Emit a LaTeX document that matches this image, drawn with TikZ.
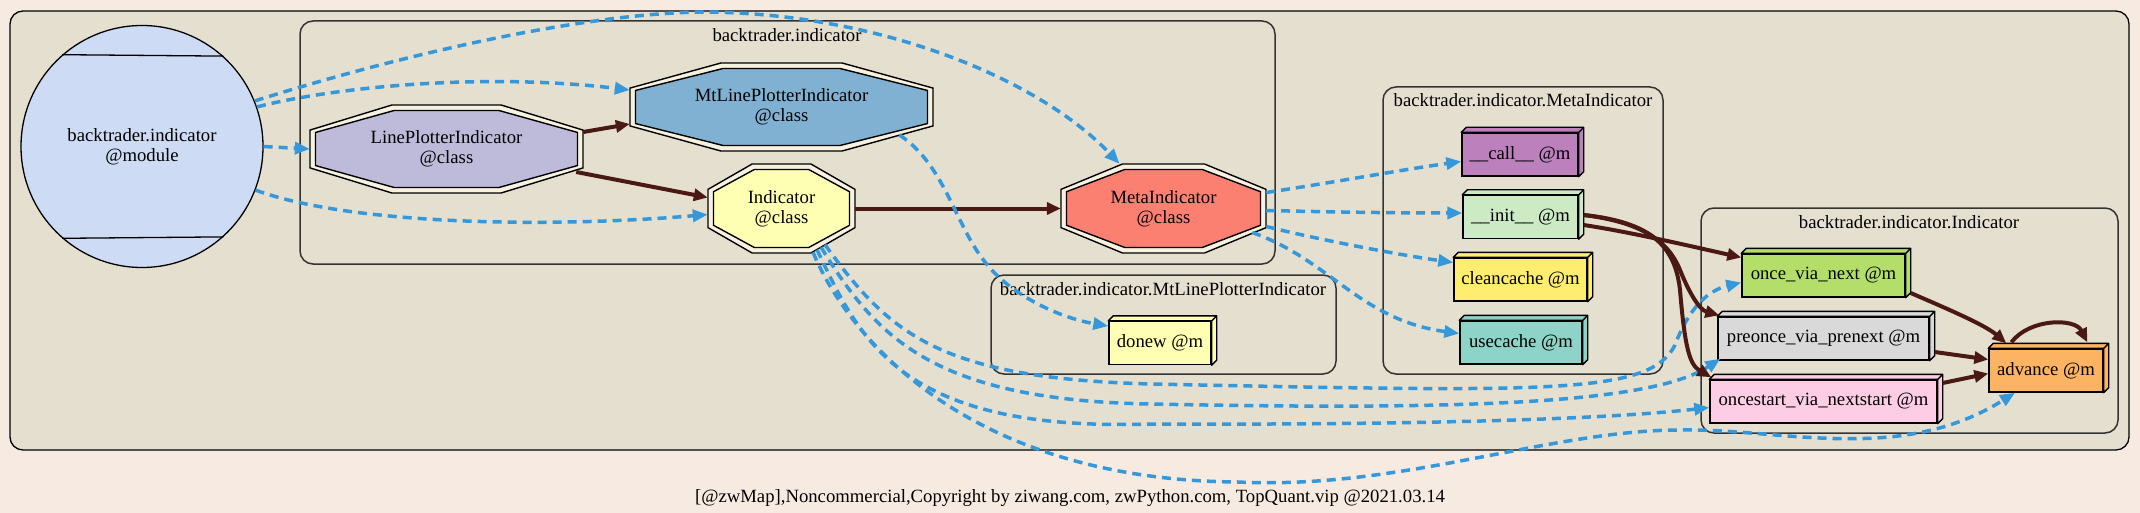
\documentclass[tikz,border=0pt]{standalone}
\usepackage{fontspec}
\setmainfont{Liberation Serif}
\usepackage{xcolor}
\usetikzlibrary{arrows.meta}

\definecolor{pagebg}{RGB}{247,235,225}
\definecolor{clusterbg}{RGB}{229,223,207}
\definecolor{octgap}{RGB}{247,241,224}
\definecolor{depblue}{RGB}{52,152,219}
\definecolor{inhbrown}{RGB}{75,25,20}
\definecolor{clrmod}{RGB}{206,219,244}
\definecolor{clrlpi}{HTML}{BEBADA}
\definecolor{clrmtl}{HTML}{80B1D3}
\definecolor{clrind}{HTML}{FFFFB3}
\definecolor{clrmeta}{HTML}{FB8072}
\definecolor{clrcall}{HTML}{BC80BD}
\definecolor{clrinit}{HTML}{CCEBC5}
\definecolor{clrclean}{HTML}{FFED6F}
\definecolor{clruse}{HTML}{8DD3C7}
\definecolor{clronv}{HTML}{B3DE69}
\definecolor{clrpre}{HTML}{D9D9D9}
\definecolor{clrost}{HTML}{FCCDE5}
\definecolor{clradv}{HTML}{FDB462}
\definecolor{clrdonew}{HTML}{FFFFB3}

\newcommand{\gvfont}{\fontsize{18.7}{20}\selectfont}
% octagon: cx, cy, half width, half height, options
\newcommand{\clsocta}[5]{%
  \draw[#5] ({#1-0.4*#3},{#2-#4}) -- ({#1+0.4*#3},{#2-#4}) -- ({#1+#3},{#2-0.43*#4}) -- ({#1+#3},{#2+0.43*#4}) -- ({#1+0.4*#3},{#2+#4}) -- ({#1-0.4*#3},{#2+#4}) -- ({#1-#3},{#2+0.43*#4}) -- ({#1-#3},{#2-0.43*#4}) -- cycle ;}

\begin{document}
\begin{tikzpicture}[x=1pt,y=-1pt,
  dep/.style={depblue, line width=3.5pt, dash pattern=on 9pt off 6pt, -{Triangle[length=15pt,width=12pt]}},
  inh/.style={inhbrown, line width=4pt, -{Triangle[length=14pt,width=12pt]}},
  clus/.style={draw=black!80, line width=1.5pt, fill=clusterbg, rounded corners=13pt},
  lbl/.style={font=\gvfont, inner sep=0pt, anchor=base},
  cls/.style={font=\gvfont, align=center, inner sep=0pt},
  meth/.style={draw, line width=1.4pt, fill=#1, font=\gvfont, minimum height=43pt, inner sep=0pt}]

%Shape: page background
\fill[pagebg] (0,0) rectangle (2140,513);
\useasboundingbox (0,0) rectangle (2140,513);

%Shape: Clusters
\draw[clus, draw=black, line width=1.3pt] (10,11) rectangle (2129,450);
\draw[clus] (300,21) rectangle (1275,264);
\draw[clus] (991,275) rectangle (1336,374);
\draw[clus] (1383,87) rectangle (1663,374);
\draw[clus] (1701,208) rectangle (2118,433);

% Text Node
\node[lbl] (lblind) at (787,42) {backtrader.indicator};
% Text Node
\node[lbl] (lblmtl) at (1163,295) {backtrader.indicator.MtLinePlotterIndicator};
% Text Node
\node[lbl] (lblmeta) at (1523,107) {backtrader.indicator.MetaIndicator};
% Text Node
\node[lbl] (lblindc) at (1909,228) {backtrader.indicator.Indicator};

%Shape: Module circle
\node[cls, circle, draw, line width=1.3pt, fill=clrmod, minimum size=242pt] (mod) at (142,146.5) {backtrader.indicator\\@module};
\draw[line width=1.3pt] (mod.131.6) -- (mod.48.4) (mod.-131.6) -- (mod.-48.4);

%Shape: Double Octagons
\clsocta{446.5}{149}{136.5}{44}{line width=1.4pt, fill=octgap}
\clsocta{446.5}{149}{131}{38.5}{line width=1.4pt, fill=clrlpi}
\node[cls, minimum width=273pt, minimum height=88pt] (lpi) at (446.5,149) {LinePlotterIndicator\\@class};

\clsocta{781.5}{107}{151.5}{44}{line width=1.4pt, fill=octgap}
\clsocta{781.5}{107}{146}{38.5}{line width=1.4pt, fill=clrmtl}
\node[cls, minimum width=303pt, minimum height=88pt] (mtl) at (781.5,107) {MtLinePlotterIndicator\\@class};

\clsocta{781.5}{208.5}{73.5}{44.5}{line width=1.4pt, fill=octgap}
\clsocta{781.5}{208.5}{68}{39}{line width=1.4pt, fill=clrind}
\node[cls, minimum width=147pt, minimum height=89pt] (ind) at (781.5,208.5) {Indicator\\@class};

\clsocta{1163.5}{208.5}{102.5}{44.5}{line width=1.4pt, fill=octgap}
\clsocta{1163.5}{208.5}{97}{39}{line width=1.4pt, fill=clrmeta}
\node[cls, minimum width=205pt, minimum height=89pt] (meta) at (1163.5,208.5) {MetaIndicator\\@class};

%Shape: Method boxes
\node[meth=clrcall, minimum width=116pt] (call) at (1520,154.5) {\_\_call\_\_ @m};
\node[meth=clrinit, minimum width=115pt] (init) at (1520.5,217) {\_\_init\_\_ @m};
\node[meth=clrclean, minimum width=133pt] (clean) at (1520.5,279.5) {cleancache @m};
\node[meth=clruse, minimum width=122pt] (use) at (1521,342.5) {usecache @m};
\node[meth=clronv, minimum width=163pt] (onv) at (1823.5,275.5) {once\_via\_next @m};
\node[meth=clrpre, minimum width=211pt] (pre) at (1823.5,338.5) {preonce\_via\_prenext @m};
\node[meth=clrost, minimum width=227pt] (ost) at (1823.5,401.5) {oncestart\_via\_nextstart @m};
\node[meth=clradv, minimum width=114pt] (adv) at (2046,370.5) {advance @m};
\node[meth=clrdonew, minimum width=102pt] (donew) at (1160,343) {donew @m};
\foreach \nm/\col in {call/clrcall, init/clrinit, clean/clrclean, use/clruse, onv/clronv, pre/clrpre, ost/clrost, adv/clradv, donew/clrdonew}
  \draw[line width=1.4pt, fill=\col, line join=round] (\nm.north west) -- ++(5,-5) -- ([shift={(5,-5)}]\nm.north east) -- ([shift={(5,-5)}]\nm.south east) -- (\nm.south east) -- (\nm.north east) -- cycle (\nm.north east) -- ++(5,-5);

%Curve Lines: module
\draw[dep] (mod.22) .. controls (400,55) and (580,14) .. (700,12) .. controls (880,12) and (1040,80) .. ([xshift=-44pt]meta.north);
\draw[dep] (mod.19) .. controls (330,88) and (480,72) .. ([yshift=17pt]mtl.west);
\draw[dep] (mod.east) -- (lpi.west);
\draw[dep] (mod.-21) .. controls (350,225) and (550,228) .. ([yshift=-6pt]ind.west);

%Straight Lines: inheritance
\draw[inh] ([yshift=17pt]lpi.east) -- ([yshift=-17pt]mtl.west);
\draw[inh] ([xshift=-7pt,yshift=-23pt]lpi.east) -- ([yshift=11pt]ind.west);
\draw[inh] (ind.east) -- (meta.west);

%Curve Lines: MtLinePlotterIndicator
\draw[dep] ([xshift=118pt,yshift=-28pt]mtl.center) .. controls (945,165) and (955,225) .. (985,262) .. controls (1010,295) and (1060,318) .. ([yshift=17pt]donew.west);

%Curve Lines: MetaIndicator
\draw[dep] ([yshift=16pt]meta.east) .. controls (1330,183) and (1400,170) .. ([yshift=-7pt]call.west);
\draw[dep] ([yshift=-2pt]meta.east) .. controls (1330,212) and (1400,213) .. ([yshift=4pt]init.west);
\draw[dep] ([yshift=-18pt]meta.east) .. controls (1320,240) and (1400,255) .. ([yshift=17pt]clean.west);
\draw[dep] ([xshift=-14pt,yshift=-24pt]meta.east) .. controls (1330,260) and (1360,320) .. ([yshift=9pt]use.west);

%Curve Lines: Indicator
\draw[dep] ([xshift=43.5pt,yshift=8.5pt]ind.south) .. controls (890,335) and (940,378) .. (1150,384) .. controls (1550,392) and (1650,395) .. (1675,345) .. controls (1690,305) and (1710,290) .. ([yshift=-7pt]onv.west);
\draw[dep] ([xshift=39.5pt,yshift=6pt]ind.south) .. controls (875,335) and (930,400) .. (1150,404) .. controls (1450,410) and (1650,405) .. ([xshift=3pt,yshift=2pt]pre.south west);
\draw[dep] ([xshift=35.5pt,yshift=3.5pt]ind.south) .. controls (860,340) and (900,432) .. (1150,424) .. controls (1400,425) and (1600,420) .. ([yshift=-6pt]ost.west);
\draw[dep] ([xshift=31.5pt,yshift=1pt]ind.south) .. controls (845,330) and (960,480) .. (1238,482) .. controls (1400,490) and (1550,430) .. (1680,430) .. controls (1780,428) and (1900,465) .. ([xshift=-31pt]adv.south);

%Curve Lines: __init__
\draw[inh] ([xshift=5pt,yshift=-8pt]init.east) .. controls (1630,232) and (1690,246) .. ([yshift=18pt]onv.west);
\draw[inh] ([xshift=5pt,yshift=2pt]init.east) .. controls (1640,222) and (1668,240) .. (1680,270) .. controls (1690,295) and (1700,310) .. ([xshift=2pt,yshift=1pt]pre.north west);
\draw[inh] ([xshift=5pt,yshift=2pt]init.east) .. controls (1650,222) and (1675,245) .. (1680,290) .. controls (1685,350) and (1690,365) .. ([xshift=2pt,yshift=2pt]ost.north west);

%Curve Lines: advance
\draw[inh] ([xshift=5pt,yshift=-17.5pt]onv.east) .. controls (1950,310) and (1985,325) .. ([xshift=18pt,yshift=5pt]adv.north west);
\draw[inh] ([xshift=5pt,yshift=-13.5pt]pre.east) -- ([yshift=11pt]adv.west);
\draw[inh] ([xshift=5pt,yshift=18.5pt]ost.east) -- ([yshift=-3pt]adv.west);
\draw[inh] ([xshift=23pt,yshift=6pt]adv.north west) .. controls (2030,318) and (2075,318) .. ([xshift=99pt,yshift=6pt]adv.north west);

% Text Node
\node[lbl] (foot) at (1070,502) {[@zwMap],Noncommercial,Copyright by ziwang.com, zwPython.com, TopQuant.vip @2021.03.14};

\end{tikzpicture}
\end{document}
